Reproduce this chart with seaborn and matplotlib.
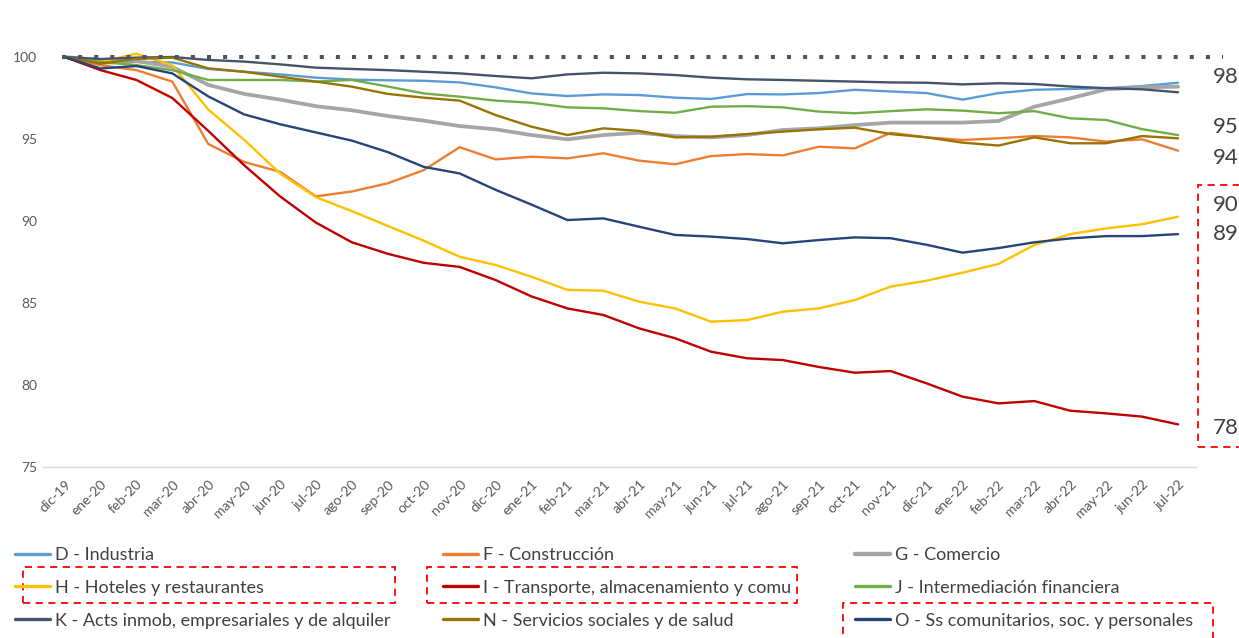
import pandas as pd
import matplotlib.pyplot as plt
import seaborn as sns
from matplotlib.lines import Line2D
from matplotlib.patches import Rectangle

meses = ['dic-19', 'ene-20', 'feb-20', 'mar-20', 'abr-20', 'may-20', 'jun-20', 'jul-20',
         'ago-20', 'sep-20', 'oct-20', 'nov-20', 'dic-20', 'ene-21', 'feb-21', 'mar-21',
         'abr-21', 'may-21', 'jun-21', 'jul-21', 'ago-21', 'sep-21', 'oct-21', 'nov-21',
         'dic-21', 'ene-22', 'feb-22', 'mar-22', 'abr-22', 'may-22', 'jun-22', 'jul-22']

industria = [100, 99.6, 99.7, 99.67, 99.27, 99.1, 98.94, 98.74, 98.62, 98.58, 98.55, 98.45,
             98.15, 97.78, 97.62, 97.72, 97.68, 97.52, 97.44, 97.74, 97.72, 97.8, 98.0, 97.9,
             97.8, 97.4, 97.8, 98.0, 98.05, 98.1, 98.23, 98.43]
construccion = [100, 99.5, 99.2, 98.5, 94.7, 93.6, 93.0, 91.5, 91.8, 92.3, 93.1, 94.5,
                93.76, 93.92, 93.82, 94.13, 93.68, 93.46, 93.96, 94.08, 94.0, 94.53, 94.43, 95.38,
                95.1, 94.94, 95.04, 95.18, 95.1, 94.84, 94.98, 94.29]
comercio = [100, 99.8, 99.75, 99.4, 98.3, 97.75, 97.4, 97.0, 96.75, 96.4, 96.12, 95.79,
            95.59, 95.24, 94.98, 95.24, 95.38, 95.18, 95.1, 95.24, 95.55, 95.65, 95.85, 96.0,
            96.0, 96.0, 96.1, 96.97, 97.48, 98.03, 98.15, 98.19]
hoteles = [100, 99.7, 100.2, 99.5, 96.8, 94.95, 92.9, 91.45, 90.6, 89.7, 88.8, 87.82,
           87.32, 86.6, 85.8, 85.75, 85.08, 84.67, 83.86, 83.96, 84.47, 84.67, 85.18, 86.0,
           86.36, 86.85, 87.38, 88.54, 89.2, 89.55, 89.8, 90.26]
transporte = [100, 99.2, 98.6, 97.5, 95.5, 93.4, 91.5, 89.9, 88.7, 88.0, 87.45, 87.2,
              86.4, 85.4, 84.67, 84.27, 83.45, 82.85, 82.03, 81.63, 81.52, 81.1, 80.75, 80.85,
              80.1, 79.29, 78.88, 79.02, 78.43, 78.27, 78.07, 77.6]
financiera = [100, 99.7, 99.5, 99.2, 98.6, 98.6, 98.6, 98.5, 98.6, 98.2, 97.78, 97.58,
              97.34, 97.21, 96.93, 96.87, 96.7, 96.6, 96.97, 97.0, 96.93, 96.67, 96.57, 96.7,
              96.81, 96.73, 96.57, 96.7, 96.26, 96.16, 95.6, 95.24]
inmob = [100, 99.88, 99.96, 100.0, 99.82, 99.72, 99.55, 99.35, 99.27, 99.2, 99.1, 99.0,
         98.84, 98.7, 98.94, 99.04, 99.0, 98.9, 98.74, 98.64, 98.6, 98.55, 98.5, 98.45,
         98.43, 98.33, 98.4, 98.35, 98.2, 98.1, 98.03, 97.85]
salud = [100, 99.6, 99.88, 99.96, 99.31, 99.1, 98.8, 98.5, 98.19, 97.75, 97.52, 97.34,
         96.46, 95.75, 95.24, 95.65, 95.49, 95.1, 95.14, 95.3, 95.45, 95.59, 95.69, 95.3,
         95.1, 94.78, 94.6, 95.1, 94.74, 94.74, 95.18, 95.04]
comunitarios = [100, 99.3, 99.45, 99.0, 97.6, 96.5, 95.9, 95.4, 94.9, 94.2, 93.3, 92.9,
                91.9, 91.0, 90.06, 90.16, 89.65, 89.15, 89.05, 88.9, 88.64, 88.84, 89.0, 88.95,
                88.55, 88.07, 88.35, 88.7, 88.94, 89.08, 89.08, 89.2]

nombres = ['D - Industria', 'F - Construcción', 'G - Comercio',
           'H - Hoteles y restaurantes', 'I - Transporte, almacenamiento y comu',
           'J - Intermediación financiera',
           'K - Acts inmob, empresariales y de alquiler', 'N - Servicios sociales y de salud',
           'O - Ss comunitarios, soc. y personales']
series = [industria, construccion, comercio, hoteles, transporte, financiera, inmob, salud,
          comunitarios]
colores = ['#5B9BD5', '#ED7D31', '#A5A5A5', '#FFC000', '#C00000', '#70AD47', '#44546A',
           '#997300', '#264478']
etiquetas_fin = ['98', '95', '94', '90', '89', '78']

filas = []
for nombre, valores in zip(nombres, series):
    for i, v in enumerate(valores):
        filas.append({'idx': i, 'valor': v, 'serie': nombre})
df = pd.DataFrame(filas)

sns.set_style('white')
plt.rcParams['font.family'] = ['Lato', 'DejaVu Sans']

W, H = 1239, 638
fx = lambda x: x / W
fy = lambda y: 1 - y / H

fig = plt.figure(figsize=(12.39, 6.38), dpi=100)
ax = fig.add_axes([fx(43), fy(467), 1153 / W, 426.4 / H])

grosor = {n: 1.7 for n in nombres}
grosor['G - Comercio'] = 2.7
sns.lineplot(data=df, x='idx', y='valor', hue='serie', size='serie', sizes=grosor,
             hue_order=nombres, palette=dict(zip(nombres, colores)), legend=False, ax=ax)

# linea base 100 punteada
ax.plot([-0.08, 32.24], [100, 100], color='#44546A', lw=2.9, ls=(0, (1, 3)),
        dash_capstyle='butt', clip_on=False, zorder=5)

ax.set_xlim(-0.6, 31.25)
ax.set_ylim(75, 101)
ax.set_yticks([75, 80, 85, 90, 95, 100])
ax.set_xticks(range(len(meses)))
ax.set_xticklabels(meses, rotation=45, ha='right', rotation_mode='anchor')
ax.set_xticks([i - 0.5 for i in range(len(meses) + 1)], minor=True)
ax.tick_params(axis='x', which='major', length=0, pad=8, labelsize=10, labelcolor='#595959')
ax.tick_params(axis='x', which='minor', length=5, color='#D9D9D9', width=1)
ax.tick_params(axis='y', length=0, pad=4, labelsize=10, labelcolor='#595959')
ax.set_xlabel('')
ax.set_ylabel('')
for s in ['top', 'right', 'left']:
    ax.spines[s].set_visible(False)
ax.spines['bottom'].set_color('#D9D9D9')
ax.spines['bottom'].set_linewidth(1)

# etiquetas de la derecha
for txt, yp in zip(etiquetas_fin, [76.7, 126.7, 158.3, 205, 234, 428]):
    fig.text(fx(1213), fy(yp), txt, ha='left', va='center', fontsize=16, color='#404040')

# leyenda en tres columnas
orden_cols = [[0, 3, 6], [1, 4, 7], [2, 5, 8]]
x_cols = [15, 443, 855]
for cols, xc in zip(orden_cols, x_cols):
    handles = [Line2D([], [], color=colores[k], lw=3.2 if k == 2 else 2.4) for k in cols]
    labels = [nombres[k] for k in cols]
    fig.legend(handles, labels, loc='upper left', bbox_to_anchor=(fx(xc), fy(547)),
               frameon=False, fontsize=13, handlelength=1.95, handletextpad=0.25,
               labelspacing=0.93, borderpad=0, borderaxespad=0, labelcolor='#404040')

# recuadros rojos punteados
cajas = [(23, 567, 395, 603), (427, 567, 797, 603), (843, 603, 1213, 650), (1198, 185, 1250, 447)]
for x0, y0, x1, y1 in cajas:
    fig.add_artist(Rectangle((fx(x0), fy(y1)), fx(x1) - fx(x0), fy(y0) - fy(y1),
                             transform=fig.transFigure, fill=False, edgecolor='#FF0000',
                             lw=1.3, ls=(0, (4, 3)), clip_on=False))

plt.savefig('out.png', dpi=100)
plt.close()
